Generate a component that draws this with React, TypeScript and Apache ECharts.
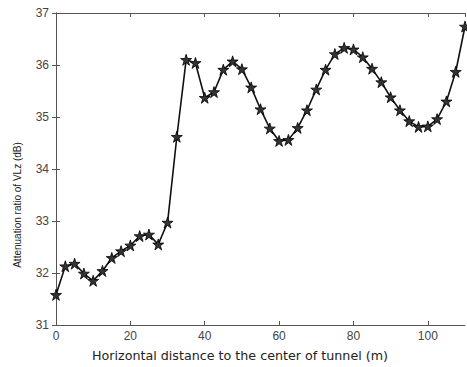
import React, { useEffect, useRef } from "react";
import * as echarts from "echarts";

const distances = [
  0, 2.5, 5, 7.5, 10, 12.5, 15, 17.5, 20, 22.5, 25, 27.5, 30, 32.5, 35, 37.5,
  40, 42.5, 45, 47.5, 50, 52.5, 55, 57.5, 60, 62.5, 65, 67.5, 70, 72.5, 75,
  77.5, 80, 82.5, 85, 87.5, 90, 92.5, 95, 97.5, 100, 102.5, 105, 107.5, 110,
];
const attenuation = [
  31.58, 32.13, 32.18, 31.99, 31.85, 32.04, 32.29, 32.42, 32.53, 32.71, 32.74,
  32.55, 32.97, 34.62, 36.1, 36.04, 35.37, 35.48, 35.91, 36.07, 35.92, 35.57,
  35.15, 34.78, 34.54, 34.56, 34.79, 35.13, 35.53, 35.91, 36.21, 36.33, 36.3,
  36.15, 35.93, 35.67, 35.38, 35.13, 34.92, 34.81, 34.82, 34.96, 35.3, 35.87,
  36.74,
];
const xTitle = "Horizontal distance to the center of tunnel (m)";
const yTitle = "Attenuation ratio of VLz (dB)";

const STAR =
  "path://M50 0 L61.2 34.5 L97.6 34.5 L68.2 55.9 L79.4 90.5 L50 69.1 L20.6 90.5 L31.8 55.9 L2.4 34.5 L38.8 34.5 Z";

export default function App() {
  const ref = useRef<HTMLDivElement>(null);
  useEffect(() => {
    if (!ref.current) return;
    const chart = echarts.init(ref.current, null, { renderer: "svg" });
    const axisColor = "#555";
    const labelStyle = {
      color: "#444",
      fontFamily: "Liberation Sans, Arial, sans-serif",
      fontSize: 12,
    };
    chart.setOption({
      animation: false,
      backgroundColor: "#fff",
      grid: {
        left: 56,
        right: 2,
        top: 13,
        bottom: 42,
        show: false,
        containLabel: false,
        outerBoundsMode: "none",
      },
      xAxis: [
        {
          type: "value",
          min: 0,
          max: 110,
          interval: 20,
          position: "bottom",
          axisLine: { show: true, lineStyle: { color: axisColor, width: 1 } },
          axisTick: { show: true, inside: true, length: 4, lineStyle: { color: axisColor } },
          axisLabel: { ...labelStyle, margin: 5, showMaxLabel: false },
          splitLine: { show: false },
        },
        {
          type: "value",
          min: 0,
          max: 110,
          interval: 20,
          position: "top",
          axisLine: { show: true, lineStyle: { color: axisColor, width: 1 } },
          axisTick: { show: true, inside: true, length: 4, lineStyle: { color: axisColor } },
          axisLabel: { show: false },
          splitLine: { show: false },
        },
      ],
      yAxis: [
        {
          type: "value",
          min: 31,
          max: 37,
          interval: 1,
          position: "left",
          axisLine: { show: true, lineStyle: { color: axisColor, width: 1 } },
          axisTick: { show: true, inside: true, length: 4, lineStyle: { color: axisColor } },
          axisLabel: { ...labelStyle, margin: 7 },
          splitLine: { show: false },
        },
        {
          type: "value",
          min: 31,
          max: 37,
          interval: 1,
          position: "right",
          axisLine: { show: true, lineStyle: { color: axisColor, width: 1 } },
          axisTick: { show: true, inside: true, length: 4, lineStyle: { color: axisColor } },
          axisLabel: { show: false },
          splitLine: { show: false },
        },
      ],
      graphic: [
        {
          type: "text",
          x: 240,
          y: 355,
          style: {
            text: xTitle,
            fill: "#222",
            font: "12.7px 'DejaVu Sans', Verdana, sans-serif",
            align: "center",
            verticalAlign: "middle",
          },
        },
        {
          type: "text",
          x: 17,
          y: 205,
          rotation: Math.PI / 2,
          style: {
            text: yTitle,
            fill: "#222",
            font: "10px 'Liberation Sans', Arial, sans-serif",
            align: "center",
            verticalAlign: "middle",
          },
        },
      ],
      series: [
        {
          type: "line",
          xAxisIndex: 0,
          yAxisIndex: 0,
          data: distances.map((d, i) => [d, attenuation[i]]),
          symbol: STAR,
          symbolSize: 11,
          showAllSymbol: true,
          clip: false,
          lineStyle: { color: "#111", width: 1.6 },
          itemStyle: { color: "#333", borderColor: "#000", borderWidth: 0.8 },
        },
      ],
    });
    return () => chart.dispose();
  }, []);
  return (
    <div
      ref={ref}
      style={{ position: "fixed", left: 0, top: 0, width: 467, height: 367 }}
    />
  );
}
